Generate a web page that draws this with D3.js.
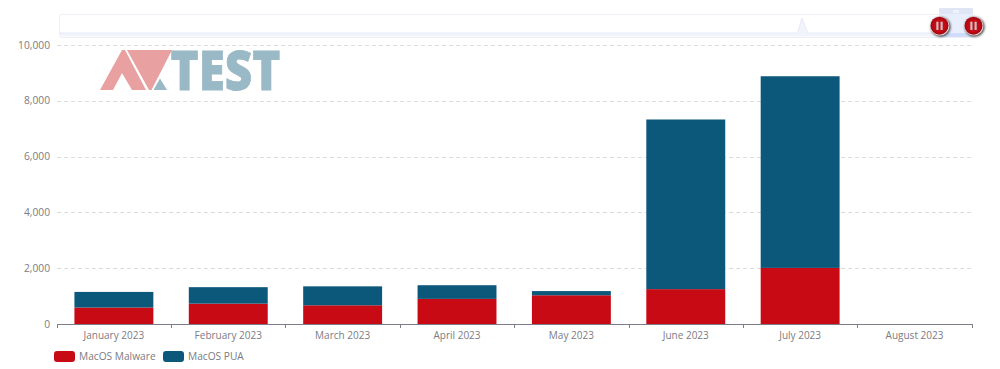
<!DOCTYPE html>
<html>
<head>
<meta charset="utf-8">
<script src="https://cdn.jsdelivr.net/npm/d3@7"></script>
<style>
    html, body { margin: 0; padding: 0; background: #fff; overflow: hidden; }
    text { font-family: "Open Sans", sans-serif; }
</style>
</head>
<body>
<div id="chart"></div>
<script>
const months = ["January 2023", "February 2023", "March 2023", "April 2023", "May 2023", "June 2023", "July 2023", "August 2023"];
const malware = [590, 730, 670, 900, 1030, 1250, 2010, 0];
const pua = [560, 590, 680, 490, 150, 6080, 6870, 0];
const seriesNames = ["MacOS Malware", "MacOS PUA"];
const seriesColors = ["#c80a14", "#0c587b"];
const yTicks = [0, 2000, 4000, 6000, 8000, 10000];
// Overview strip under the slider: flat apart from a single spike
const previewPos = [0, 0.8065, 0.811, 0.8175, 1];
const previewVal = [0, 0, 1, 0, 0];

const width = 1000;
const height = 369;

const svg = d3.select("#chart")
    .append("svg")
    .attr("width", width)
    .attr("height", height)
    .style("display", "block");

const defs = svg.append("defs");
const btnGrad = defs.append("radialGradient").attr("id", "btn");
btnGrad.append("stop").attr("offset", "60%").attr("stop-color", "#c80a14");
btnGrad.append("stop").attr("offset", "100%").attr("stop-color", "#a00711");
const blur = defs.append("filter").attr("id", "shadow").attr("x", "-50%").attr("y", "-50%").attr("width", "200%").attr("height", "200%");
blur.append("feGaussianBlur").attr("stdDeviation", 1);

// The original face runs narrower than Open Sans, squeeze each label to fit
function squeeze(sel, factor) {
    sel.each(function () {
        d3.select(this)
            .attr("textLength", this.getComputedTextLength() * factor)
            .attr("lengthAdjust", "spacingAndGlyphs");
    });
}

const x = d3.scaleBand()
    .domain(months)
    .range([56.7, 971.7])
    .paddingInner(0.31)
    .paddingOuter(0.155);

const y = d3.scaleLinear()
    .domain([0, 10000])
    .range([324, 45]);

// Grid lines
svg.selectAll(".grid")
    .data(yTicks.filter(d => d > 0))
    .enter()
    .append("line")
    .attr("x1", 57)
    .attr("x2", 972)
    .attr("y1", d => Math.round(y(d)) + 0.5)
    .attr("y2", d => Math.round(y(d)) + 0.5)
    .attr("stroke", "#dcdcdf")
    .attr("stroke-dasharray", "4,3");

// Y labels
svg.selectAll(".ylabel")
    .data(yTicks)
    .enter()
    .append("text")
    .attr("x", 50)
    .attr("y", d => y(d))
    .attr("dy", "0.32em")
    .attr("text-anchor", "end")
    .attr("font-size", 11.5)
    .attr("fill", "#7b7b84")
    .text(d3.format(","))
    .call(squeeze, 0.89);

// Logo, washed out behind the bars
const logo = svg.append("g");
const logoRed = [
    "M100,90 L122,50 L125,50 L146,90 L132,90 L122,73 L113,90 Z",
    "M127,50 L172,50 L151.5,90 L149,90 Z"
];
logo.selectAll("path.red")
    .data(logoRed)
    .enter()
    .append("path")
    .attr("class", "red")
    .attr("d", d => d)
    .attr("fill", "#e8a0a0");
logo.append("path")
    .attr("d", "M153.5,90 L160,78.5 L167,90 Z")
    .attr("fill", "#9ab9c6");
logo.append("text")
    .attr("x", 170.5)
    .attr("y", 89.6)
    .attr("font-size", 55)
    .attr("font-weight", 800)
    .attr("textLength", 110)
    .attr("lengthAdjust", "spacingAndGlyphs")
    .attr("fill", "#9ab9c6")
    .attr("stroke", "#9ab9c6")
    .attr("stroke-width", 0.8)
    .text("TEST");

// Stacked bars
const stacked = d3.stack()
    .keys(seriesNames)
    (months.map((m, i) => ({ month: m, [seriesNames[0]]: malware[i], [seriesNames[1]]: pua[i] })));

svg.selectAll(".layer")
    .data(stacked)
    .enter()
    .append("g")
    .attr("fill", (d, i) => seriesColors[i])
    .selectAll("rect")
    .data(d => d)
    .enter()
    .append("rect")
    .attr("x", d => x(d.data.month))
    .attr("y", d => y(d[1]))
    .attr("width", x.bandwidth())
    .attr("height", d => y(d[0]) - y(d[1]));

// X axis, ticks sit between the categories
const axisLine = svg.append("g").attr("stroke", "#7d7d88");
axisLine.append("line")
    .attr("x1", 57)
    .attr("x2", 972)
    .attr("y1", 324.5)
    .attr("y2", 324.5);
axisLine.selectAll(".tick")
    .data(d3.range(months.length + 1))
    .enter()
    .append("line")
    .attr("x1", d => Math.round(56.7 + d * x.step()) + 0.5)
    .attr("x2", d => Math.round(56.7 + d * x.step()) + 0.5)
    .attr("y1", 324)
    .attr("y2", 328);

svg.selectAll(".xlabel")
    .data(months)
    .enter()
    .append("text")
    .attr("x", d => x(d) + x.bandwidth() / 2)
    .attr("y", 339)
    .attr("text-anchor", "middle")
    .attr("font-size", 11)
    .attr("fill", "#7b7b84")
    .text(d => d)
    .call(squeeze, 0.91);

// Legend
const legend = svg.selectAll(".legend")
    .data(seriesNames)
    .enter()
    .append("g")
    .attr("transform", (d, i) => `translate(${[54, 163][i]},351)`);
legend.append("rect")
    .attr("width", 21)
    .attr("height", 11)
    .attr("rx", 3)
    .attr("fill", (d, i) => seriesColors[i]);
legend.append("text")
    .attr("x", 25)
    .attr("y", 8.5)
    .attr("font-size", 11)
    .attr("fill", "#7b7b84")
    .text(d => d)
    .call(squeeze, 0.925);

// Zoom slider on top
const sliderX = d3.scaleLinear().domain([0, 1]).range([59, 975]);
const sliderY = d3.scaleLinear().domain([0, 1]).range([33, 18]);

svg.append("rect")
    .attr("x", 59.5)
    .attr("y", 14.5)
    .attr("width", 915)
    .attr("height", 23)
    .attr("rx", 2)
    .attr("fill", "#fff")
    .attr("stroke", "#eeeff6");

const previewArea = d3.area()
    .x((d, i) => sliderX(previewPos[i]))
    .y0(36.5)
    .y1(d => sliderY(d));
svg.append("path")
    .datum(previewVal)
    .attr("d", previewArea)
    .attr("fill", "#f2f4fb");
const previewLine = d3.line()
    .x((d, i) => sliderX(previewPos[i]))
    .y(d => sliderY(d));
svg.append("path")
    .datum(previewVal)
    .attr("d", previewLine)
    .attr("fill", "none")
    .attr("stroke", "#e6e9f6");

// Selected window of the slider
svg.append("rect").attr("x", 939).attr("y", 8).attr("width", 34).attr("height", 6).attr("rx", 1).attr("fill", "#dfe5f4");
svg.append("rect").attr("x", 939).attr("y", 14).attr("width", 34).attr("height", 23).attr("fill", "#e8eefc");
svg.append("rect").attr("x", 939).attr("y", 33).attr("width", 34).attr("height", 4).attr("fill", "#cfdcfa");
svg.selectAll(".grip")
    .data([-2, 0, 2])
    .enter()
    .append("rect")
    .attr("x", d => 955.5 + d)
    .attr("y", 10)
    .attr("width", 1)
    .attr("height", 3)
    .attr("fill", "#fff");

// Pause buttons on the slider handles
const buttons = svg.selectAll(".btn")
    .data([939.5, 973.5])
    .enter()
    .append("g")
    .attr("transform", d => `translate(${d},25.7)`);
buttons.append("circle")
    .attr("cx", 1.2)
    .attr("cy", 1.2)
    .attr("r", 10)
    .attr("fill", "#555")
    .attr("filter", "url(#shadow)");
buttons.append("circle")
    .attr("cx", 0.3)
    .attr("cy", 0.3)
    .attr("r", 9.6)
    .attr("fill", "#e8e0e2");
buttons.append("circle")
    .attr("r", 9)
    .attr("fill", "url(#btn)");
buttons.selectAll("rect")
    .data([-3.2, 1])
    .enter()
    .append("rect")
    .attr("x", d => d)
    .attr("y", -4)
    .attr("width", 2.2)
    .attr("height", 8.3)
    .attr("fill", "#cdbcc2");
</script>
</body>
</html>
